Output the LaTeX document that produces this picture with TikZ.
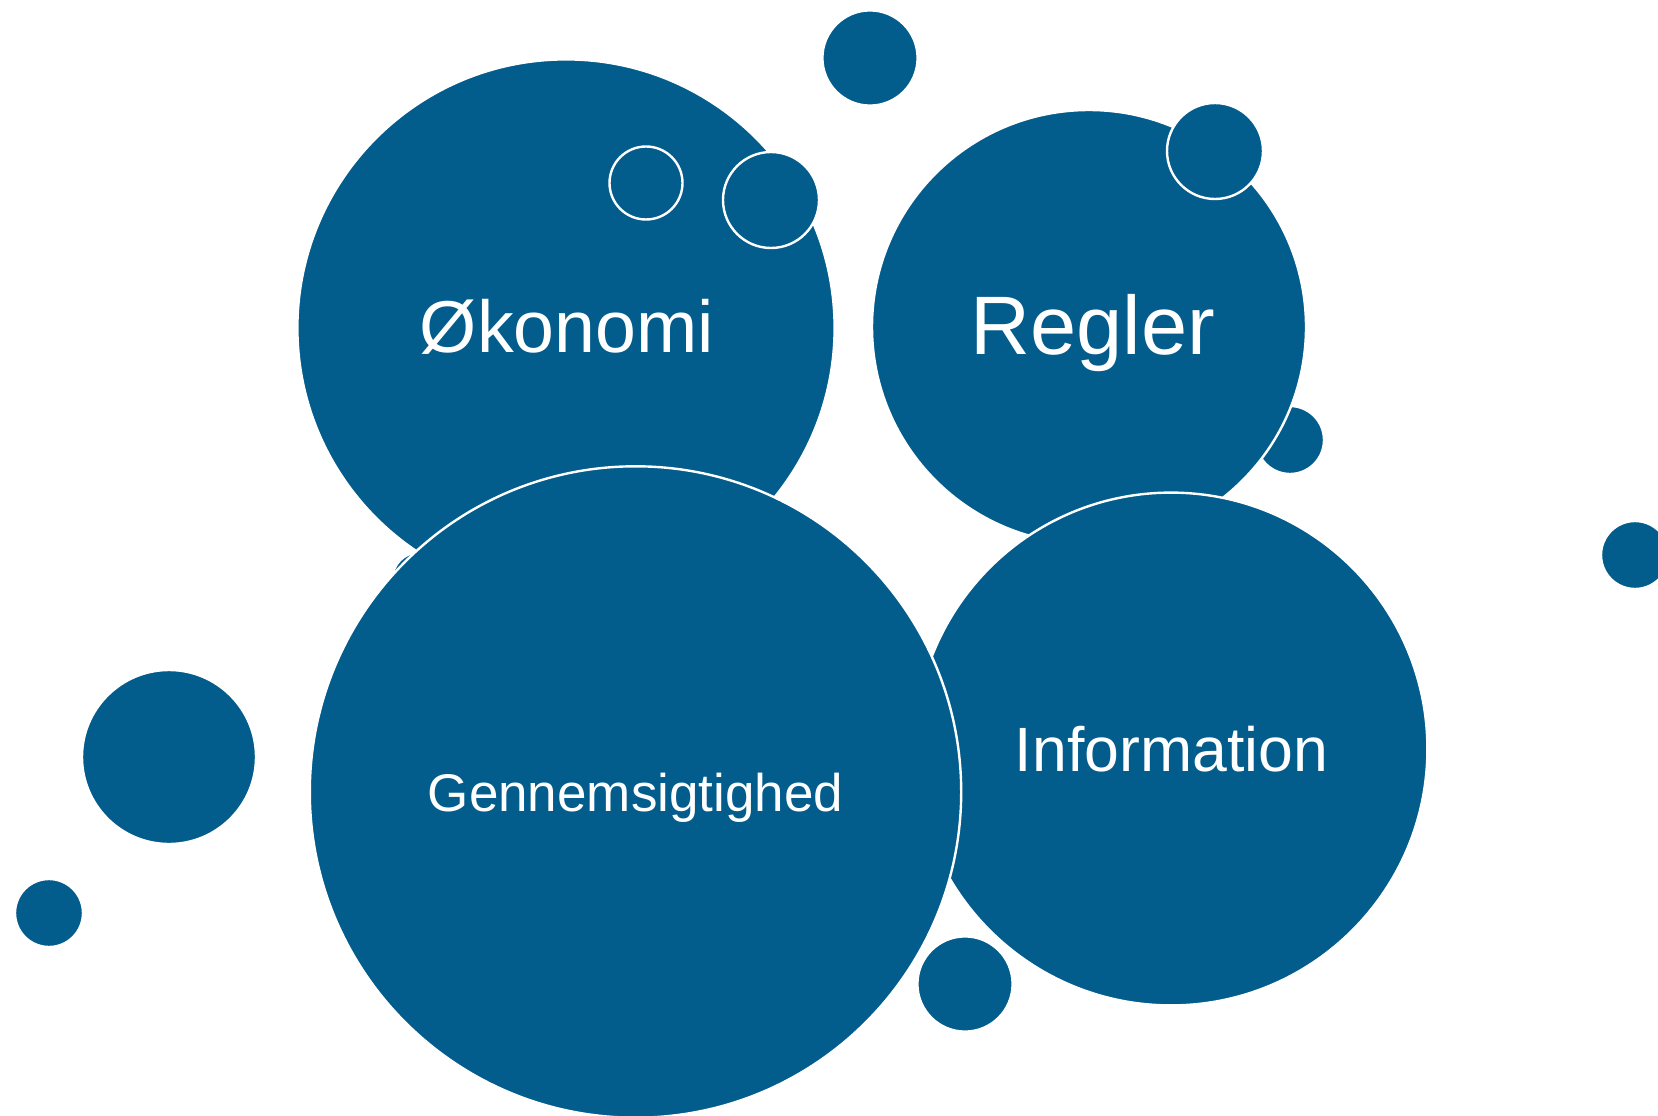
\documentclass[tikz,border=0pt]{standalone}
\usepackage{fontspec}
\setmainfont{Liberation Sans}
\definecolor{bubble}{RGB}{2,92,140}
\begin{document}
\begin{tikzpicture}[x=1pt,y=-1pt,
  bub/.style={circle,inner sep=0pt,outer sep=0pt,fill=bubble,draw=white,line width=2.4pt,minimum size=2*#1},
  lbl/.style={text=white,anchor=base,inner sep=0pt}]
\useasboundingbox[fill=white] (0,0) rectangle (1658,1116);

% small bubble tucked behind the large lower circle
\node[bub=28] (hid) at (420,580) {};
% upper left circle and its bubbles
\node[bub=268.6] (oko) at (566,328) {};
\node[bub=36.5] (ring) at (646,183) {};
\node[bub=48] (okb) at (771,200) {};
\node[bub=47.6] (top) at (870,58) {};
% upper right circle and its bubbles
\node[bub=34] (regr) at (1290,440) {};
\node[bub=217] (reg) at (1089,327) {};
\node[bub=48] (regt) at (1215,151) {};
% lower circles
\node[bub=256.4] (inf) at (1171,749) {};
\node[bub=325.7] (gen) at (635.5,792) {};
% loose bubbles
\node[bub=87] (lb) at (169,757) {};
\node[bub=34] (ls) at (49,913) {};
\node[bub=47.6] (bot) at (965,984) {};
\node[bub=34] (rt) at (1635,555) {};

% labels
\node[lbl,font=\fontsize{73.5}{80}\selectfont] (toko) at (567,352) {Økonomi};
\node[lbl,font=\fontsize{83}{90}\selectfont] (treg) at (1093,354) {Regler};
\node[lbl,font=\fontsize{62.6}{70}\selectfont] (tinf) at (1171.5,771) {Information};
\node[lbl,font=\fontsize{53}{60}\selectfont] (tgen) at (635.5,811) {Gennemsigtighed};
\end{tikzpicture}
\end{document}
